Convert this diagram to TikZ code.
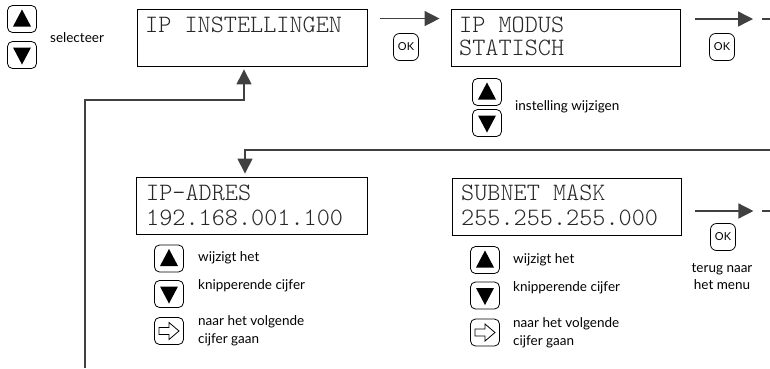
\documentclass[tikz,border=0pt]{standalone}
\usepackage{fontspec}
\setmainfont{Lato}
\newfontfamily\lcdfont{Latin Modern Mono Light}
\usetikzlibrary{arrows.meta,calc}
\begin{document}
\begin{tikzpicture}[x=1pt,y=-1pt,
 lcd/.style={draw, line width=0.9pt, minimum height=57pt, inner sep=0pt},
 lcdtext/.style={anchor=base west, inner sep=0pt, font=\lcdfont\fontsize{25}{25}\selectfont, text=black!85},
 lbl/.style={anchor=base west, inner sep=0pt, font=\fontsize{13.5}{16}\selectfont},
 btn/.style={draw, rounded corners=5pt, minimum width=29pt, minimum height=27pt, inner sep=0pt, line width=0.8pt},
 upbtn/.style={btn, path picture={\fill[black, sharp corners] ($(path picture bounding box.center)+(0,-9.5)$) -- ++(9,17) -- ++(-18,0) -- cycle;}},
 downbtn/.style={btn, path picture={\fill[black, sharp corners] ($(path picture bounding box.center)+(0,9.5)$) -- ++(9,-17) -- ++(-18,0) -- cycle;}},
 rightbtn/.style={btn, path picture={\draw[line width=0.8pt, sharp corners] ($(path picture bounding box.center)+(-10,-3.5)$) -- ++(10,0) -- ++(0,-5) -- ++(10,8.5) -- ++(-10,8.5) -- ++(0,-5) -- ++(-10,0) -- cycle;}},
 okbtn/.style={draw, rounded corners=6pt, minimum width=25pt, minimum height=27pt, inner sep=0pt, line width=0.8pt, font=\fontsize{11}{11}\selectfont},
 flow/.style={draw=black!75, line width=1.4pt, -{Triangle[length=15pt,width=15pt]}},
 plain/.style={draw=black!75, line width=1.4pt},
]
\useasboundingbox (0,0) rectangle (770,368);

% LCD boxes
\node[lcd, minimum width=230pt] (box1) at (252,37.5) {};
\node[lcd, minimum width=229pt] (box2) at (565.5,37.5) {};
\node[lcd, minimum width=231pt] (box3) at (251.5,205.5) {};
\node[lcd, minimum width=229pt] (box4) at (566.5,206.5) {};

\node[lcdtext] (t1) at (145,32) {IP INSTELLINGEN};
\node[lcdtext] (t2a) at (459,32) {IP MODUS};
\node[lcdtext] (t2b) at (459,55) {STATISCH};
\node[lcdtext] (t3a) at (146,200) {IP-ADRES};
\node[lcdtext] (t3b) at (146,225) {192.168.001.100};
\node[lcdtext] (t4a) at (461,200) {SUBNET MASK};
\node[lcdtext] (t4b) at (461,225) {255.255.255.000};

% top-left select buttons
\node[upbtn] (selup) at (22,19) {};
\node[downbtn] (seldown) at (22,55) {};
\node[lbl] (sellbl) at (50,42) {selecteer};

% OK buttons
\node[okbtn] (ok1) at (406,47) {OK};
\node[okbtn] (ok2) at (722,47) {OK};
\node[okbtn] (ok3) at (723,237) {OK};

% arrows top row
\draw[flow] ([shift={(13,10)}]box1.north east) -- ([shift={(-11,10)}]box2.north west);
\coordinate (e1a) at (695,19);
\coordinate (e1b) at (753,19);
\coordinate (e1c) at (762,19);
\coordinate (e1d) at (770,19);
\draw[flow] (e1a) -- (e1b);
\draw[plain] (e1c) -- (e1d);

% mode buttons
\node[upbtn] (modup) at (487,92) {};
\node[downbtn] (moddown) at (487,123) {};
\node[lbl] (modlbl) at (515,110) {instelling wijzigen};

% return connector into IP-ADRES
\coordinate (rin) at (770,150);
\draw[flow, shorten >=3pt] (rin) -| ([xshift=-6.5]box3.north);

% loop back to IP INSTELLINGEN
\coordinate (loopstart) at (85,368);
\draw[flow, shorten >=3pt] (loopstart) |- (244,100) -- ([xshift=-8]box1.south);

% IP-ADRES buttons
\node[upbtn] (ipup) at (169,258.5) {};
\node[downbtn] (ipdown) at (169,294) {};
\node[rightbtn] (ipright) at (169,331) {};
\node[lbl] (ipl1) at (198,261) {wijzigt het};
\node[lbl] (ipl2) at (198,289) {knipperende cijfer};
\node[lbl] (ipl3) at (198,325) {naar het volgende};
\node[lbl] (ipl4) at (198,343) {cijfer gaan};

% SUBNET buttons
\node[upbtn] (snup) at (485,260) {};
\node[downbtn] (sndown) at (485,295.5) {};
\node[rightbtn] (snright) at (485,332.5) {};
\node[lbl] (snl1) at (513,263) {wijzigt het};
\node[lbl] (snl2) at (513,291) {knipperende cijfer};
\node[lbl] (snl3) at (513,327) {naar het volgende};
\node[lbl] (snl4) at (513,345) {cijfer gaan};

% bottom-right arrow
\draw[flow] ([shift={(14,4.5)}]box4.east) -- ++(58,0) coordinate (e3b);
\coordinate (e3c) at (762,211);
\coordinate (e3d) at (770,211);
\draw[plain] (e3c) -- (e3d);
\node[inner sep=0pt, font=\fontsize{13.5}{16}\selectfont, anchor=base] (terug1) at (722,272) {terug naar};
\node[inner sep=0pt, font=\fontsize{13.5}{16}\selectfont, anchor=base] (terug2) at (722,289) {het menu};
\end{tikzpicture}
\end{document}
